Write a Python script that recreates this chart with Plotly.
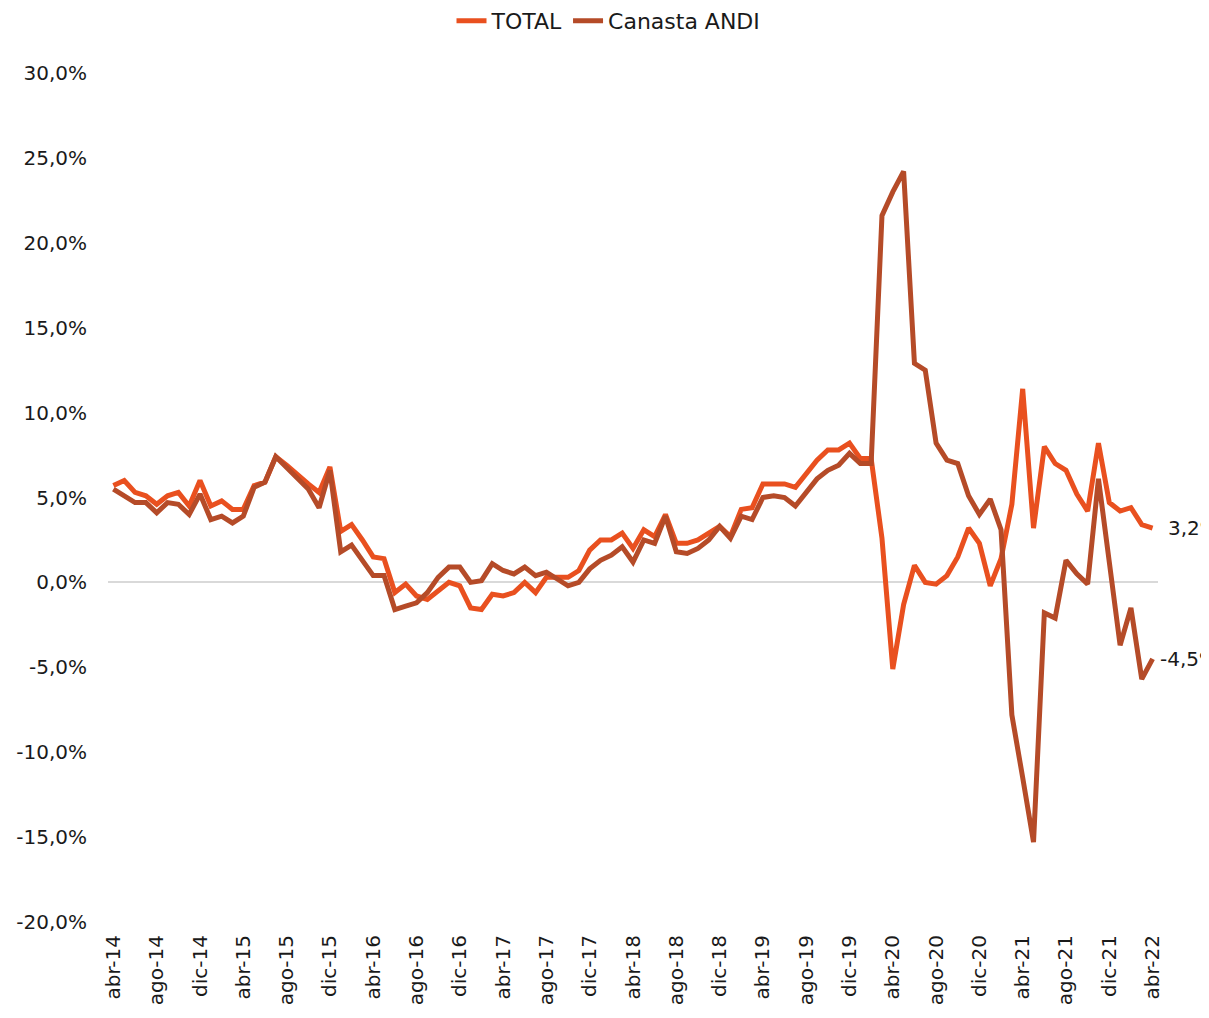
import plotly.graph_objects as go

# Month labels (Spanish abbreviations), abr-14 .. abr-22
meses = ["ene", "feb", "mar", "abr", "may", "jun", "jul", "ago", "sep", "oct", "nov", "dic"]
categorias = []
for i in range(97):
    k = 3 + i
    categorias.append(f"{meses[k % 12]}-{14 + k // 12}")

total = [
    5.7, 6.0, 5.3, 5.1, 4.6, 5.1, 5.3, 4.5, 6.0, 4.5,
    4.8, 4.3, 4.3, 5.7, 5.9, 7.4, 6.9, 6.3, 5.8, 5.3,
    6.8, 3.0, 3.4, 2.5, 1.5, 1.4, -0.6, -0.1, -0.8, -1.0,
    -0.5, 0.0, -0.2, -1.5, -1.6, -0.7, -0.8, -0.6, 0.0, -0.6,
    0.3, 0.3, 0.3, 0.7, 1.9, 2.5, 2.5, 2.9, 2.0, 3.1,
    2.7, 4.0, 2.3, 2.3, 2.5, 2.9, 3.3, 2.7, 4.3, 4.4,
    5.8, 5.8, 5.8, 5.6, 6.4, 7.2, 7.8, 7.8, 8.2, 7.3,
    7.3, 2.6, -5.1, -1.3, 1.0, 0.0, -0.1, 0.4, 1.5, 3.2,
    2.3, -0.2, 1.4, 4.6, 11.4, 3.2, 8.0, 7.0, 6.6, 5.2,
    4.2, 8.2, 4.7, 4.2, 4.4, 3.4, 3.2,
]

andi = [
    5.5, 5.1, 4.7, 4.7, 4.1, 4.7, 4.6, 4.0, 5.2, 3.7,
    3.9, 3.5, 3.9, 5.6, 5.9, 7.4, 6.8, 6.2, 5.5, 4.4,
    6.6, 1.8, 2.2, 1.3, 0.4, 0.4, -1.6, -1.4, -1.2, -0.6,
    0.3, 0.9, 0.9, 0.0, 0.1, 1.1, 0.7, 0.5, 0.9, 0.4,
    0.6, 0.2, -0.2, 0.0, 0.8, 1.3, 1.6, 2.1, 1.2, 2.5,
    2.3, 3.9, 1.8, 1.7, 2.0, 2.5, 3.3, 2.6, 3.9, 3.7,
    5.0, 5.1, 5.0, 4.5, 5.3, 6.1, 6.6, 6.9, 7.6, 7.0,
    7.0, 21.6, 23.0, 24.2, 12.9, 12.5, 8.2, 7.2, 7.0, 5.1,
    4.0, 4.9, 3.1, -7.8, -11.5, -15.3, -1.8, -2.1, 1.3, 0.5,
    -0.1, 6.1, 1.2, -3.7, -1.5, -5.7, -4.5,
]

y_ticks = [30, 25, 20, 15, 10, 5, 0, -5, -10, -15, -20]
y_ticktext = [f"{v:.1f}%".replace(".", ",") for v in y_ticks]

x_idx = list(range(len(categorias)))
x_tickvals = x_idx[::4]
x_ticktext = categorias[::4]

COL_TOTAL = "#E9501F"
COL_ANDI = "#B54B28"
FONT = "DejaVu Sans"
TXT = "#1a1a1a"

fig = go.Figure()
fig.add_trace(go.Scatter(x=x_idx, y=total, name="TOTAL", mode="lines",
                         line=dict(color=COL_TOTAL, width=5)))
fig.add_trace(go.Scatter(x=x_idx, y=andi, name="Canasta ANDI", mode="lines",
                         line=dict(color=COL_ANDI, width=5)))

fig.add_annotation(x=x_idx[-1], y=total[-1], text=f"{total[-1]:.1f}%".replace(".", ","),
                   showarrow=False, xanchor="left", yanchor="middle", xshift=13,
                   font=dict(family=FONT, size=20, color=TXT))
fig.add_annotation(x=x_idx[-1], y=andi[-1], text=f"{andi[-1]:.1f}%".replace(".", ","),
                   showarrow=False, xanchor="left", yanchor="middle", xshift=5,
                   font=dict(family=FONT, size=20, color=TXT))

# The page body adds an 8px offset, so the figure is 8px smaller than the window
fig.update_layout(
    width=1201, height=1010, autosize=False,
    margin=dict(l=100, r=51, t=65, b=96),
    paper_bgcolor="white", plot_bgcolor="white",
    font=dict(family=FONT, size=20, color=TXT),
    showlegend=True,
    legend=dict(orientation="h", xref="container", x=0.5, xanchor="center",
                yref="container", y=1 - 13 / 1010, yanchor="middle",
                font=dict(family=FONT, size=22, color=TXT),
                bgcolor="rgba(0,0,0,0)"),
    xaxis=dict(range=[-0.5, 96.5], tickmode="array", tickvals=x_tickvals, ticktext=x_ticktext,
               tickangle=-90, showgrid=False, zeroline=False, showline=False, ticks="",
               ticklabelstandoff=8, automargin=False,
               tickfont=dict(family=FONT, size=20, color=TXT)),
    yaxis=dict(range=[-20, 30], tickmode="array", tickvals=y_ticks, ticktext=y_ticktext,
               showgrid=False, zeroline=True, zerolinecolor="#D9D9D9", zerolinewidth=2,
               showline=False, ticks="", ticklabelstandoff=20, automargin=False,
               tickfont=dict(family=FONT, size=20, color=TXT)),
)

fig.write_html("out.html")
